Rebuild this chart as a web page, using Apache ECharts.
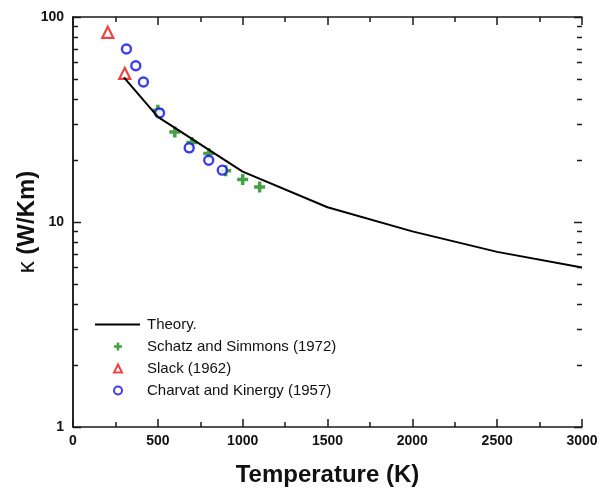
<!DOCTYPE html>
<html>
<head>
<meta charset="utf-8">
<script src="https://cdn.jsdelivr.net/npm/echarts@6/dist/echarts.min.js"></script>
<style>
  html, body { margin: 0; padding: 0; background: #fff; }
  #chart { width: 601px; height: 496px; }
</style>
</head>
<body>
<div id="chart"></div>
<script>
// Thermal conductivity vs temperature: theory curve and measured data sets
const theoryT = [300, 500, 1000, 1500, 2000, 2500, 3000];
const theoryK = [50.8, 32.6, 17.6, 11.8, 9.0, 7.15, 6.0];

const schatzT = [500, 600, 700, 800, 900, 1000, 1100];
const schatzK = [35.1, 27.5, 24.4, 21.6, 17.8, 16.1, 14.8];

const slackT = [205, 305];
const slackK = [84.2, 53.1];

const charvatT = [315, 370, 415, 510, 685, 800, 880];
const charvatK = [69.8, 57.8, 48.2, 34.0, 23.0, 20.0, 17.9];

const xTicks = [0, 500, 1000, 1500, 2000, 2500, 3000];
const yTicks = [1, 10, 100];

const pair = (xs, ys) => xs.map((x, i) => [x, ys[i]]);

const AXIS = '#1a1a1a';
const FONT = 'Arial, "Liberation Sans", sans-serif';
const PLUS = 'path://M3.4,0H6.6V3.4H10V6.6H6.6V10H3.4V6.6H0V3.4H3.4Z';
const GREEN = '#168a16', RED = '#ee1111', BLUE = '#0d0deb';

const chart = echarts.init(document.getElementById('chart'), null, { renderer: 'canvas' });

const option = {
  backgroundColor: '#fff',
  animation: false,
  grid: { left: 73, right: 19, top: 17, bottom: 69, containLabel: false, outerBoundsMode: 'none' },
  legend: [
    {
      orient: 'vertical', left: 90, top: 312,
      itemWidth: 45, itemHeight: 2,
      data: [{ name: 'Theory.', icon: 'rect' }],
      textStyle: { fontFamily: FONT, fontSize: 15, color: '#111', padding: [0, 0, 0, 2] },
      selectedMode: false
    },
    {
      orient: 'vertical', left: 108, top: 334,
      itemWidth: 8, itemHeight: 8, itemGap: 7,
      data: ['Schatz and Simmons (1972)', 'Slack (1962)', 'Charvat and Kinergy (1957)'],
      formatter: name => '{t|' + name + '}',
      textStyle: {
        fontFamily: FONT, fontSize: 15, color: '#111',
        rich: { t: { fontFamily: FONT, fontSize: 15, color: '#111', padding: [0, 0, 0, 20] } }
      },
      selectedMode: false
    }
  ],
  xAxis: [
    {
      type: 'value', min: 0, max: 3000, interval: 500, position: 'bottom',
      name: 'Temperature (K)', nameLocation: 'middle', nameGap: 36, nameMoveOverlap: false,
      nameTextStyle: { fontFamily: FONT, fontSize: 24, fontWeight: 'bold', color: '#111' },
      axisLine: { lineStyle: { color: AXIS, width: 1.5 } },
      axisTick: { inside: true, length: 8, lineStyle: { color: AXIS, width: 1.5 } },
      minorTick: { show: true, splitNumber: 2, length: 5, lineStyle: { color: AXIS, width: 1.5 } },
      axisLabel: {
        margin: 7, fontFamily: FONT, fontSize: 14, fontWeight: 'bold', color: '#111',
        formatter: v => (xTicks.indexOf(v) >= 0 ? String(v) : '')
      },
      splitLine: { show: false }
    },
    {
      type: 'value', min: 0, max: 3000, interval: 500, position: 'top',
      axisLine: { lineStyle: { color: AXIS, width: 1.5 } },
      axisTick: { inside: true, length: 8, lineStyle: { color: AXIS, width: 1.5 } },
      minorTick: { show: true, splitNumber: 2, length: 5, lineStyle: { color: AXIS, width: 1.5 } },
      axisLabel: { show: false },
      splitLine: { show: false }
    }
  ],
  yAxis: [
    {
      type: 'log', logBase: 10, min: 1, max: 100, position: 'left',
      name: '{k|κ} {b|(W/Km)}', nameLocation: 'middle', nameGap: 34, nameMoveOverlap: false,
      nameTextStyle: {
        fontFamily: FONT, fontSize: 24, fontWeight: 'bold', color: '#111',
        rich: {
          k: { fontFamily: FONT, fontSize: 24, fontWeight: 'normal', color: '#111' },
          b: { fontFamily: FONT, fontSize: 24, fontWeight: 'bold', color: '#111' }
        }
      },
      axisLine: { lineStyle: { color: AXIS, width: 1.5 } },
      axisTick: { show: false },
      axisLabel: {
        margin: 9, fontFamily: FONT, fontSize: 14, fontWeight: 'bold', color: '#111',
        formatter: v => (yTicks.indexOf(Math.round(v)) >= 0 ? String(Math.round(v)) : '')
      },
      splitLine: { show: false }
    },
    {
      type: 'log', logBase: 10, min: 1, max: 100, position: 'right',
      axisLine: { lineStyle: { color: AXIS, width: 1.5 } },
      axisTick: { show: false },
      axisLabel: { show: false },
      splitLine: { show: false }
    }
  ],
  series: [
    {
      name: 'Schatz and Simmons (1972)', type: 'scatter',
      data: pair(schatzT, schatzK),
      symbol: PLUS, symbolSize: 11,
      itemStyle: { color: GREEN }
    },
    {
      name: 'Slack (1962)', type: 'scatter',
      data: pair(slackT, slackK),
      symbol: 'triangle', symbolSize: 11,
      itemStyle: { color: '#fff', borderColor: RED, borderWidth: 2.2 }
    },
    {
      name: 'Charvat and Kinergy (1957)', type: 'scatter',
      data: pair(charvatT, charvatK),
      symbol: 'circle', symbolSize: 9,
      itemStyle: { color: '#fff', borderColor: BLUE, borderWidth: 2.4 }
    },
    {
      name: 'Theory.', type: 'line',
      data: pair(theoryT, theoryK),
      showSymbol: false, symbol: 'none',
      lineStyle: { color: '#000', width: 2 },
      itemStyle: { color: '#000' },
      z: 3
    }
  ]
};

chart.setOption(option);

// Log-axis ticks on both vertical edges: majors at decades, minors at 2..9
const tickVals = [];
for (let d = 1; d <= 100; d *= 10) {
  tickVals.push({ v: d, len: 8 });
  if (d < 100) for (let m = 2; m <= 9; m++) tickVals.push({ v: m * d, len: 5 });
}
const leftX = chart.convertToPixel({ xAxisIndex: 0 }, 0);
const rightX = chart.convertToPixel({ xAxisIndex: 0 }, 3000);
const ticks = [];
tickVals.forEach(t => {
  const y = Math.round(chart.convertToPixel({ yAxisIndex: 0 }, t.v)) + 0.5;
  ticks.push({ type: 'line', silent: true, z: 10, shape: { x1: leftX, y1: y, x2: leftX + t.len, y2: y },
    style: { stroke: AXIS, lineWidth: 1.5 } });
  ticks.push({ type: 'line', silent: true, z: 10, shape: { x1: rightX, y1: y, x2: rightX - t.len, y2: y },
    style: { stroke: AXIS, lineWidth: 1.5 } });
});
chart.setOption({ graphic: ticks });
</script>
</body>
</html>
